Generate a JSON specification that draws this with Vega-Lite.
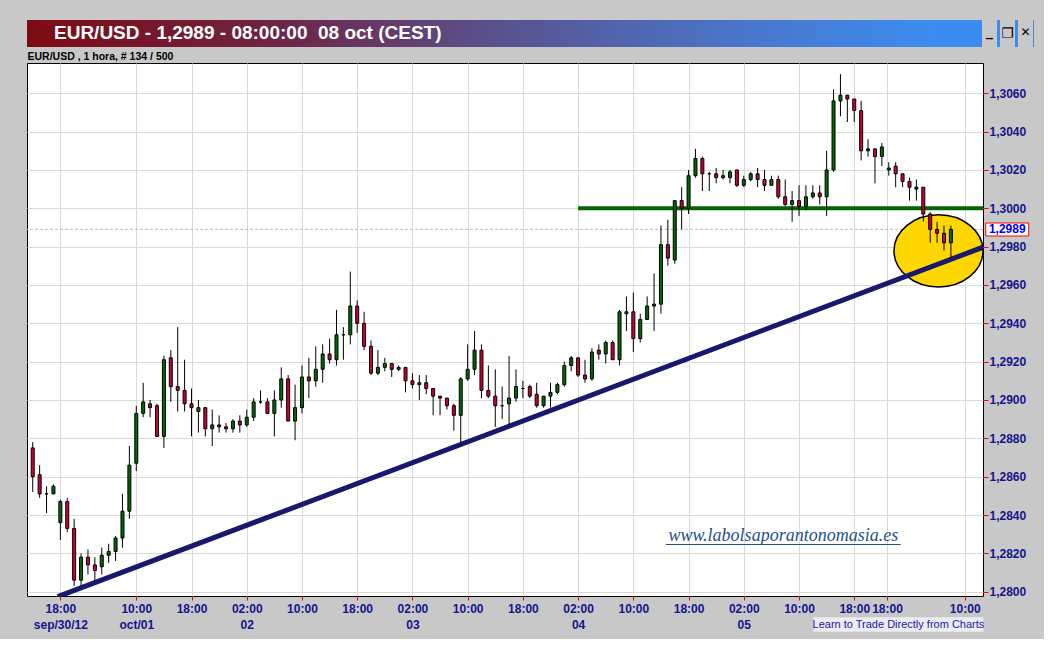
{
  "$schema": "https://vega.github.io/schema/vega-lite/v6.json",
  "background": "#C8C8C8",
  "padding": {"left": 26, "top": 20, "right": 10, "bottom": 6},
  "spacing": 4,
  "config": {"font": "Liberation Sans"},
  "datasets": {
    "candles": [
      {"i":0,"o":1.2875,"h":1.2878,"l":1.2852,"c":1.2860},
      {"i":1,"o":1.2861,"h":1.2866,"l":1.2849,"c":1.2851},
      {"i":2,"o":1.2851,"h":1.2855,"l":1.2841,"c":1.2851},
      {"i":3,"o":1.2851,"h":1.2856,"l":1.2851,"c":1.2855},
      {"i":4,"o":1.2836,"h":1.2848,"l":1.2827,"c":1.2847},
      {"i":5,"o":1.2847,"h":1.2849,"l":1.2831,"c":1.2833},
      {"i":6,"o":1.2833,"h":1.2838,"l":1.2803,"c":1.2806},
      {"i":7,"o":1.2806,"h":1.2820,"l":1.2803,"c":1.2818},
      {"i":8,"o":1.2818,"h":1.2822,"l":1.2809,"c":1.2814},
      {"i":9,"o":1.2814,"h":1.2818,"l":1.2806,"c":1.2811},
      {"i":10,"o":1.2813,"h":1.2823,"l":1.2809,"c":1.2819},
      {"i":11,"o":1.2819,"h":1.2825,"l":1.2815,"c":1.2821},
      {"i":12,"o":1.2821,"h":1.2829,"l":1.2816,"c":1.2828},
      {"i":13,"o":1.2828,"h":1.2851,"l":1.2823,"c":1.2842},
      {"i":14,"o":1.2842,"h":1.2876,"l":1.2838,"c":1.2866},
      {"i":15,"o":1.2867,"h":1.2897,"l":1.2863,"c":1.2893},
      {"i":16,"o":1.2893,"h":1.2909,"l":1.2891,"c":1.2899},
      {"i":17,"o":1.2898,"h":1.2900,"l":1.2891,"c":1.2896},
      {"i":18,"o":1.2897,"h":1.2898,"l":1.2881,"c":1.2881},
      {"i":19,"o":1.2881,"h":1.2923,"l":1.2875,"c":1.2921},
      {"i":20,"o":1.2922,"h":1.2926,"l":1.2899,"c":1.2907},
      {"i":21,"o":1.2907,"h":1.2938,"l":1.2894,"c":1.2905},
      {"i":22,"o":1.2905,"h":1.2921,"l":1.2894,"c":1.2898},
      {"i":23,"o":1.2898,"h":1.2906,"l":1.2881,"c":1.2896},
      {"i":24,"o":1.2894,"h":1.2900,"l":1.2883,"c":1.2896},
      {"i":25,"o":1.2896,"h":1.2896,"l":1.2881,"c":1.2885},
      {"i":26,"o":1.2885,"h":1.2895,"l":1.2876,"c":1.2887},
      {"i":27,"o":1.2887,"h":1.2892,"l":1.2883,"c":1.2886},
      {"i":28,"o":1.2886,"h":1.2888,"l":1.2883,"c":1.2885},
      {"i":29,"o":1.2885,"h":1.2890,"l":1.2883,"c":1.2889},
      {"i":30,"o":1.2889,"h":1.2892,"l":1.2883,"c":1.2887},
      {"i":31,"o":1.2887,"h":1.2895,"l":1.2886,"c":1.2891},
      {"i":32,"o":1.2891,"h":1.2901,"l":1.2889,"c":1.2899},
      {"i":33,"o":1.2899,"h":1.2905,"l":1.2898,"c":1.2899},
      {"i":34,"o":1.2899,"h":1.2901,"l":1.2893,"c":1.2893},
      {"i":35,"o":1.2893,"h":1.2905,"l":1.2881,"c":1.2900},
      {"i":36,"o":1.2900,"h":1.2917,"l":1.2896,"c":1.2911},
      {"i":37,"o":1.2911,"h":1.2913,"l":1.2889,"c":1.2889},
      {"i":38,"o":1.2889,"h":1.2908,"l":1.2879,"c":1.2896},
      {"i":39,"o":1.2896,"h":1.2918,"l":1.2893,"c":1.2912},
      {"i":40,"o":1.2912,"h":1.2922,"l":1.2901,"c":1.2910},
      {"i":41,"o":1.2910,"h":1.2928,"l":1.2907,"c":1.2916},
      {"i":42,"o":1.2916,"h":1.2929,"l":1.2909,"c":1.2924},
      {"i":43,"o":1.2924,"h":1.2932,"l":1.2919,"c":1.2921},
      {"i":44,"o":1.2921,"h":1.2947,"l":1.2918,"c":1.2934},
      {"i":45,"o":1.2934,"h":1.2938,"l":1.2921,"c":1.2934},
      {"i":46,"o":1.2934,"h":1.2967,"l":1.2929,"c":1.2949},
      {"i":47,"o":1.2949,"h":1.2952,"l":1.2935,"c":1.2940},
      {"i":48,"o":1.2940,"h":1.2946,"l":1.2926,"c":1.2928},
      {"i":49,"o":1.2928,"h":1.2931,"l":1.2913,"c":1.2914},
      {"i":50,"o":1.2914,"h":1.2926,"l":1.2913,"c":1.2917},
      {"i":51,"o":1.2917,"h":1.2922,"l":1.2915,"c":1.2919},
      {"i":52,"o":1.2919,"h":1.2919,"l":1.2912,"c":1.2916},
      {"i":53,"o":1.2916,"h":1.2918,"l":1.2915,"c":1.2917},
      {"i":54,"o":1.2917,"h":1.2917,"l":1.2904,"c":1.2910},
      {"i":55,"o":1.2910,"h":1.2914,"l":1.2906,"c":1.2908},
      {"i":56,"o":1.2908,"h":1.2913,"l":1.2900,"c":1.2909},
      {"i":57,"o":1.2909,"h":1.2913,"l":1.2903,"c":1.2906},
      {"i":58,"o":1.2906,"h":1.2906,"l":1.2892,"c":1.2902},
      {"i":59,"o":1.2902,"h":1.2902,"l":1.2892,"c":1.2901},
      {"i":60,"o":1.2901,"h":1.2901,"l":1.2895,"c":1.2897},
      {"i":61,"o":1.2897,"h":1.2898,"l":1.2884,"c":1.2892},
      {"i":62,"o":1.2892,"h":1.2912,"l":1.2877,"c":1.2911},
      {"i":63,"o":1.2911,"h":1.2929,"l":1.2910,"c":1.2916},
      {"i":64,"o":1.2916,"h":1.2936,"l":1.2913,"c":1.2926},
      {"i":65,"o":1.2926,"h":1.2929,"l":1.2901,"c":1.2905},
      {"i":66,"o":1.2905,"h":1.2918,"l":1.2901,"c":1.2902},
      {"i":67,"o":1.2902,"h":1.2916,"l":1.2886,"c":1.2897},
      {"i":68,"o":1.2897,"h":1.2907,"l":1.2890,"c":1.2897},
      {"i":69,"o":1.2898,"h":1.2923,"l":1.2886,"c":1.2901},
      {"i":70,"o":1.2901,"h":1.2916,"l":1.2899,"c":1.2907},
      {"i":71,"o":1.2906,"h":1.2910,"l":1.2901,"c":1.2906},
      {"i":72,"o":1.2907,"h":1.2908,"l":1.2901,"c":1.2902},
      {"i":73,"o":1.2903,"h":1.2909,"l":1.2896,"c":1.2897},
      {"i":74,"o":1.2897,"h":1.2902,"l":1.2896,"c":1.2902},
      {"i":75,"o":1.2902,"h":1.2909,"l":1.2896,"c":1.2904},
      {"i":76,"o":1.2904,"h":1.2909,"l":1.2903,"c":1.2908},
      {"i":77,"o":1.2908,"h":1.2920,"l":1.2907,"c":1.2918},
      {"i":78,"o":1.2918,"h":1.2923,"l":1.2915,"c":1.2922},
      {"i":79,"o":1.2922,"h":1.2922,"l":1.2912,"c":1.2913},
      {"i":80,"o":1.2913,"h":1.2921,"l":1.2909,"c":1.2911},
      {"i":81,"o":1.2911,"h":1.2927,"l":1.2910,"c":1.2925},
      {"i":82,"o":1.2926,"h":1.2929,"l":1.2921,"c":1.2924},
      {"i":83,"o":1.2924,"h":1.2931,"l":1.2919,"c":1.2930},
      {"i":84,"o":1.2930,"h":1.2931,"l":1.2921,"c":1.2921},
      {"i":85,"o":1.2921,"h":1.2947,"l":1.2918,"c":1.2946},
      {"i":86,"o":1.2945,"h":1.2954,"l":1.2936,"c":1.2946},
      {"i":87,"o":1.2946,"h":1.2956,"l":1.2925,"c":1.2932},
      {"i":88,"o":1.2932,"h":1.2945,"l":1.2930,"c":1.2942},
      {"i":89,"o":1.2942,"h":1.2954,"l":1.2942,"c":1.2949},
      {"i":90,"o":1.2949,"h":1.2966,"l":1.2936,"c":1.2950},
      {"i":91,"o":1.2950,"h":1.2991,"l":1.2945,"c":1.2981},
      {"i":92,"o":1.2981,"h":1.2994,"l":1.2970,"c":1.2974},
      {"i":93,"o":1.2973,"h":1.3004,"l":1.2971,"c":1.3004},
      {"i":94,"o":1.3004,"h":1.3011,"l":1.2989,"c":1.3000},
      {"i":95,"o":1.3000,"h":1.3020,"l":1.2997,"c":1.3017},
      {"i":96,"o":1.3017,"h":1.3031,"l":1.3016,"c":1.3026},
      {"i":97,"o":1.3026,"h":1.3027,"l":1.3009,"c":1.3018},
      {"i":98,"o":1.3018,"h":1.3019,"l":1.3009,"c":1.3018},
      {"i":99,"o":1.3018,"h":1.3021,"l":1.3013,"c":1.3016},
      {"i":100,"o":1.3017,"h":1.3020,"l":1.3015,"c":1.3016},
      {"i":101,"o":1.3016,"h":1.3020,"l":1.3013,"c":1.3019},
      {"i":102,"o":1.3020,"h":1.3020,"l":1.3011,"c":1.3012},
      {"i":103,"o":1.3012,"h":1.3017,"l":1.3011,"c":1.3015},
      {"i":104,"o":1.3015,"h":1.3019,"l":1.3014,"c":1.3018},
      {"i":105,"o":1.3018,"h":1.3021,"l":1.3011,"c":1.3015},
      {"i":106,"o":1.3015,"h":1.3020,"l":1.3009,"c":1.3012},
      {"i":107,"o":1.3012,"h":1.3017,"l":1.3012,"c":1.3015},
      {"i":108,"o":1.3015,"h":1.3017,"l":1.3005,"c":1.3006},
      {"i":109,"o":1.3006,"h":1.3015,"l":1.3001,"c":1.3002},
      {"i":110,"o":1.3002,"h":1.3009,"l":1.2993,"c":1.3004},
      {"i":111,"o":1.3004,"h":1.3012,"l":1.2996,"c":1.3001},
      {"i":112,"o":1.3001,"h":1.3012,"l":1.2999,"c":1.3006},
      {"i":113,"o":1.3006,"h":1.3012,"l":1.3005,"c":1.3008},
      {"i":114,"o":1.3008,"h":1.3012,"l":1.3002,"c":1.3006},
      {"i":115,"o":1.3006,"h":1.3030,"l":1.2996,"c":1.3020},
      {"i":116,"o":1.3020,"h":1.3062,"l":1.3019,"c":1.3056},
      {"i":117,"o":1.3056,"h":1.3070,"l":1.3048,"c":1.3059},
      {"i":118,"o":1.3059,"h":1.3059,"l":1.3045,"c":1.3057},
      {"i":119,"o":1.3057,"h":1.3057,"l":1.3045,"c":1.3051},
      {"i":120,"o":1.3051,"h":1.3056,"l":1.3025,"c":1.3030},
      {"i":121,"o":1.3030,"h":1.3036,"l":1.3027,"c":1.3031},
      {"i":122,"o":1.3031,"h":1.3031,"l":1.3013,"c":1.3027},
      {"i":123,"o":1.3027,"h":1.3034,"l":1.3022,"c":1.3032},
      {"i":124,"o":1.3020,"h":1.3024,"l":1.3017,"c":1.3021},
      {"i":125,"o":1.3022,"h":1.3024,"l":1.3011,"c":1.3018},
      {"i":126,"o":1.3018,"h":1.3018,"l":1.3011,"c":1.3014},
      {"i":127,"o":1.3014,"h":1.3016,"l":1.3004,"c":1.3011},
      {"i":128,"o":1.3010,"h":1.3015,"l":1.3004,"c":1.3011},
      {"i":129,"o":1.3011,"h":1.3011,"l":1.2993,"c":1.2997},
      {"i":130,"o":1.2997,"h":1.2998,"l":1.2982,"c":1.2989},
      {"i":131,"o":1.2989,"h":1.2993,"l":1.2982,"c":1.2987},
      {"i":132,"o":1.2987,"h":1.2991,"l":1.2978,"c":1.2982},
      {"i":133,"o":1.2982,"h":1.2991,"l":1.2974,"c":1.2989}
    ],
    "trend": [
      {"i": 3.62, "p": 1.27974},
      {"i": 137.65, "p": 1.29797}
    ]
  },
  "vconcat": [
    {
      "width": 1007,
      "height": 27,
      "view": {"stroke": null},
      "title": {"text": "EUR/USD - 1,2989 - 08:00:00\u00a0 08 oct (CEST)", "anchor": "start", "orient": "top", "offset": -23, "dx": 27, "color": "#FFFFFF", "font": "Liberation Sans", "fontSize": 19, "fontWeight": "bold"},
      "data": {"values": [{"part": "titlebar"}]},
      "layer": [
        {
          "mark": {"type": "rect", "strokeWidth": 0, "fill": {"gradient": "linear", "x1": 0, "x2": 1, "y1": 0, "y2": 0, "stops": [
            {"offset": 0, "color": "#7E0A12"},
            {"offset": 0.25, "color": "#6E2545"},
            {"offset": 0.45, "color": "#5A4F8A"},
            {"offset": 0.7, "color": "#4A75C8"},
            {"offset": 0.9, "color": "#3C8CF0"},
            {"offset": 0.9484, "color": "#3C8CF0"},
            {"offset": 0.9484, "color": "#C8C8C8"},
            {"offset": 0.9633, "color": "#C8C8C8"},
            {"offset": 0.9633, "color": "#3C8CF0"},
            {"offset": 0.9662, "color": "#3C8CF0"},
            {"offset": 0.9662, "color": "#C8C8C8"},
            {"offset": 0.9811, "color": "#C8C8C8"},
            {"offset": 0.9811, "color": "#3C8CF0"},
            {"offset": 0.9841, "color": "#3C8CF0"},
            {"offset": 0.9841, "color": "#C8C8C8"},
            {"offset": 0.999, "color": "#C8C8C8"},
            {"offset": 0.999, "color": "#3C8CF0"},
            {"offset": 1, "color": "#3C8CF0"}
          ]}},
          "encoding": {}
        },
        {"mark": {"type": "text", "text": "_", "font": "DejaVu Sans", "fontSize": 14, "fontWeight": "bold", "color": "#000000", "align": "center", "dx": -44.5, "dy": -2}, "encoding": {"x": {"value": "width"}}},
        {"mark": {"type": "text", "text": "❐", "font": "DejaVu Sans", "fontSize": 14, "color": "#000000", "align": "center", "dx": -26.5}, "encoding": {"x": {"value": "width"}}},
        {"mark": {"type": "text", "text": "✕", "font": "DejaVu Sans", "fontSize": 12, "color": "#000000", "align": "center", "dx": -8.5, "dy": -2}, "encoding": {"x": {"value": "width"}}}
      ]
    },
    {
      "width": 956,
      "height": 533,
      "view": {"stroke": "#000000", "strokeWidth": 1, "fill": "#FFFFFF"},
      "title": {"text": "EUR/USD , 1 hora, # 134 / 500", "anchor": "start", "offset": 1, "dx": 1, "color": "#000000", "font": "Liberation Sans", "fontSize": 10.5, "fontWeight": "bold"},
      "data": {"values": [{"part": "annotation"}]},
      "layer": [
        {
          "data": {"name": "candles"},
          "mark": {"type": "rule", "color": "#000000", "strokeWidth": 1},
          "encoding": {
            "x": {"field": "i", "type": "quantitative", "scale": {"domain": [-0.83, 137.65], "nice": false, "zero": false, "padding": 0},
              "axis": {"orient": "bottom", "title": null, "values": [4, 15, 23, 31, 39, 47, 55, 63, 71, 79, 87, 95, 103, 111, 119, 123.75, 135],
                "labelExpr": "datum.value == 4 ? ['18:00', 'sep/30/12'] : datum.value == 15 ? ['10:00', 'oct/01'] : datum.value == 31 ? ['02:00', '02'] : datum.value == 55 ? ['02:00', '03'] : datum.value == 79 ? ['02:00', '04'] : datum.value == 103 ? ['02:00', '05'] : (datum.value == 39 || datum.value == 63 || datum.value == 87 || datum.value == 111 || datum.value == 135) ? '10:00' : '18:00'",
                "domain": false, "grid": true, "gridColor": "#D9D9D9", "gridWidth": 1, "ticks": true, "tickColor": "#FF0000", "tickSize": 4, "tickWidth": 1,
                "labelColor": "#14148C", "labelFont": "Liberation Sans", "labelFontSize": 12, "labelFontWeight": "bold", "labelPadding": 3, "labelLineHeight": 16, "labelBaseline": "top", "labelFlush": false, "labelOverlap": false, "labelBound": false, "zindex": 0}},
            "y": {"field": "l", "type": "quantitative", "scale": {"domain": [1.279775, 1.307579], "nice": false, "zero": false, "padding": 0},
              "axis": {"orient": "right", "title": null, "values": [1.28, 1.282, 1.284, 1.286, 1.288, 1.29, 1.292, 1.294, 1.296, 1.298, 1.3, 1.302, 1.304, 1.306],
                "labelExpr": "replace(format(datum.value, '.4f'), '.', ',')",
                "domain": false, "grid": true, "gridColor": "#D9D9D9", "gridWidth": 1, "ticks": true, "tickColor": "#FF0000", "tickSize": 5, "tickWidth": 1,
                "labelColor": "#14148C", "labelFont": "Liberation Sans", "labelFontSize": 12, "labelFontWeight": "bold", "labelPadding": 1, "labelFlush": false, "labelOverlap": false, "zindex": 0}},
            "y2": {"field": "h"},
            "opacity": {"value": 0}
          }
        },
        {
          "mark": {"type": "rule", "color": "#BDBDBD", "strokeDash": [3, 2], "strokeWidth": 1},
          "encoding": {"y": {"datum": 1.2989, "type": "quantitative"}}
        },
        {
          "mark": {"type": "point", "shape": "M-1,0A1,0.81,0,1,0,1,0A1,0.81,0,1,0,-1,0Z", "size": 7921, "filled": true, "fill": "#FFD700", "stroke": "#000000", "strokeWidth": 1.5, "opacity": 1},
          "encoding": {"x": {"datum": 131.2, "type": "quantitative"}, "y": {"datum": 1.29778, "type": "quantitative"}}
        },
        {
          "mark": {"type": "rule", "color": "#006400", "strokeWidth": 4},
          "encoding": {"x": {"datum": 79, "type": "quantitative"}, "x2": {"datum": 137.65}, "y": {"datum": 1.3, "type": "quantitative"}}
        },
        {
          "data": {"name": "trend"},
          "mark": {"type": "line", "color": "#18186E", "strokeWidth": 5, "clip": true},
          "encoding": {"x": {"field": "i", "type": "quantitative"}, "y": {"field": "p", "type": "quantitative"}}
        },
        {
          "data": {"name": "candles"},
          "mark": {"type": "rule", "color": "#000000", "strokeWidth": 1},
          "encoding": {
            "x": {"field": "i", "type": "quantitative"},
            "y": {"field": "l", "type": "quantitative"},
            "y2": {"field": "h"}
          }
        },
        {
          "data": {"name": "candles"},
          "mark": {"type": "bar", "width": 3, "stroke": "#000000", "strokeWidth": 1},
          "encoding": {
            "x": {"field": "i", "type": "quantitative"},
            "y": {"field": "o", "type": "quantitative"},
            "y2": {"field": "c"},
            "color": {"condition": {"test": "datum.c >= datum.o", "value": "#006A00"}, "value": "#CC0033"}
          }
        },
        {
          "mark": {"type": "text", "text": "www.labolsaporantonomasia.es", "font": "Liberation Serif", "fontStyle": "italic", "fontSize": 18, "color": "#24508C", "align": "center", "baseline": "alphabetic"},
          "encoding": {"x": {"datum": 108.72, "type": "quantitative"}, "y": {"datum": 1.282644, "type": "quantitative"}}
        },
        {
          "mark": {"type": "rule", "color": "#24508C", "strokeWidth": 1},
          "encoding": {"x": {"datum": 91.7, "type": "quantitative"}, "x2": {"datum": 125.73}, "y": {"datum": 1.282461, "type": "quantitative"}}
        },
        {
          "mark": {"type": "rect", "fill": "#FFFFFF", "stroke": "#FF0000", "strokeWidth": 1},
          "encoding": {"x": {"datum": 138.04, "type": "quantitative"}, "x2": {"datum": 144.27}, "y": {"datum": 1.299232, "type": "quantitative"}, "y2": {"datum": 1.298554}}
        },
        {
          "mark": {"type": "text", "text": "1,2989", "font": "Liberation Sans", "fontSize": 12, "fontWeight": "bold", "color": "#0000F0", "align": "center", "baseline": "middle"},
          "encoding": {"x": {"datum": 141.16, "type": "quantitative"}, "y": {"datum": 1.2989, "type": "quantitative"}}
        },
        {
          "mark": {"type": "rect", "fill": "#ECECF2", "strokeWidth": 0},
          "encoding": {"x": {"datum": 113.09, "type": "quantitative"}, "x2": {"datum": 137.7}, "y": {"datum": 1.278663, "type": "quantitative"}, "y2": {"datum": 1.277912}}
        },
        {
          "mark": {"type": "text", "text": "Learn to Trade Directly from Charts", "font": "Liberation Sans", "fontSize": 11, "color": "#1A1AA0", "align": "center", "baseline": "middle"},
          "encoding": {"x": {"datum": 125.4, "type": "quantitative"}, "y": {"datum": 1.278288, "type": "quantitative"}}
        }
      ]
    }
  ]
}
